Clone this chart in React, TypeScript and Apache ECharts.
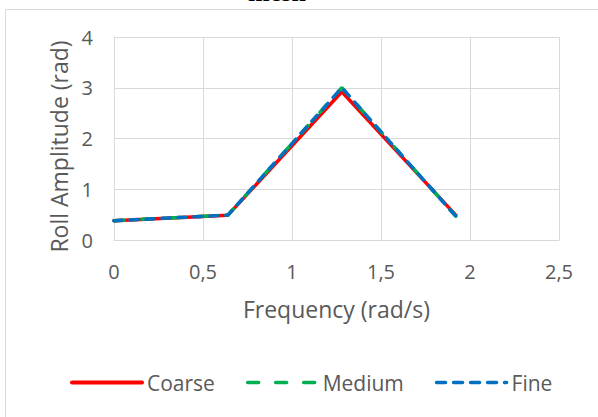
import React, { useEffect, useRef } from "react";
import * as echarts from "echarts";

const frequency = [0, 0.64, 1.28, 1.92];
const coarse = [0.38, 0.49, 2.92, 0.49];
const medium = [0.38, 0.49, 3.0, 0.47];
const fine = [0.38, 0.49, 3.0, 0.47];
const seriesNames = ["Coarse", "Medium", "Fine"];
const titleText = "mesh";

const FONT = "'Open Sans', Lato, sans-serif";
const TXT = "#595959";

export default function App() {
  const ref = useRef<HTMLDivElement>(null);
  useEffect(() => {
    if (!ref.current) return;
    const chart = echarts.init(ref.current, null, { renderer: "svg" });
    const pts = (ys: number[]) => frequency.map((x, i) => [x, ys[i]]);
    chart.setOption({
      animation: false,
      backgroundColor: "#ffffff",
      graphic: [
        {
          type: "rect",
          shape: { x: 5.5, y: 9.5, width: 700, height: 500 },
          style: { fill: "none", stroke: "#d9d9d9", lineWidth: 1 },
          silent: true,
        },
        {
          type: "text",
          x: 277,
          y: 5,
          style: {
            text: titleText,
            fill: "#000000",
            font: "bold 26px 'Liberation Serif', serif",
            align: "center",
            verticalAlign: "bottom",
          },
          silent: true,
        },
      ],
      grid: { left: 114, right: 39, top: 37, bottom: 177, containLabel: false },
      legend: {
        left: 65,
        top: 367,
        itemWidth: 70,
        itemHeight: 14,
        itemGap: 31,
        data: [
          { name: seriesNames[0], lineStyle: { type: "solid", cap: "round", width: 4 } },
          { name: seriesNames[1], lineStyle: { type: [11, 17], cap: "round", width: 3.5 } },
          { name: seriesNames[2], lineStyle: { type: [9, 8], cap: "round", width: 3.5 } },
        ],
        itemStyle: { opacity: 0 },
        textStyle: { color: TXT, fontSize: 21, fontFamily: FONT },
      },
      xAxis: {
        type: "value",
        min: 0,
        max: 2.5,
        interval: 0.5,
        name: "Frequency (rad/s)",
        nameLocation: "middle",
        nameGap: 57,
        nameTextStyle: { color: TXT, fontSize: 23, fontFamily: FONT },
        axisLine: { show: true, lineStyle: { color: "#d9d9d9", width: 1 } },
        axisTick: { show: false },
        axisLabel: {
          color: TXT,
          fontSize: 20,
          fontFamily: FONT,
          margin: 21,
          formatter: (v: number) => String(v).replace(".", ","),
        },
        splitLine: { show: true, lineStyle: { color: "#d9d9d9", width: 1 } },
      },
      yAxis: {
        type: "value",
        min: 0,
        max: 4,
        interval: 1,
        name: "Roll Amplitude (rad)",
        nameLocation: "middle",
        nameGap: 44,
        nameRotate: 90,
        nameTextStyle: {
          color: TXT,
          fontSize: 23,
          fontFamily: FONT,
          padding: [0, 16, 0, 0],
        },
        axisLine: { show: true, lineStyle: { color: "#d9d9d9", width: 1 } },
        axisTick: { show: false },
        axisLabel: { color: TXT, fontSize: 20, fontFamily: FONT, margin: 21 },
        splitLine: { show: true, lineStyle: { color: "#d9d9d9", width: 1 } },
      },
      series: [
        {
          name: seriesNames[0],
          type: "line",
          data: pts(coarse),
          symbol: "none",
          color: "#FF0000",
          lineStyle: { color: "#FF0000", width: 3.5, type: "solid", cap: "round" },
        },
        {
          name: seriesNames[1],
          type: "line",
          data: pts(medium),
          symbol: "none",
          color: "#00B050",
          lineStyle: { color: "#00B050", width: 3.5, type: [10, 18], cap: "round" },
        },
        {
          name: seriesNames[2],
          type: "line",
          data: pts(fine),
          symbol: "none",
          color: "#0070C0",
          lineStyle: { color: "#0070C0", width: 3.5, type: [8, 8], cap: "round" },
        },
      ],
    });
    return () => chart.dispose();
  }, []);
  return (
    <div
      ref={ref}
      style={{ position: "fixed", left: 0, top: 0, width: 598, height: 417 }}
    />
  );
}
